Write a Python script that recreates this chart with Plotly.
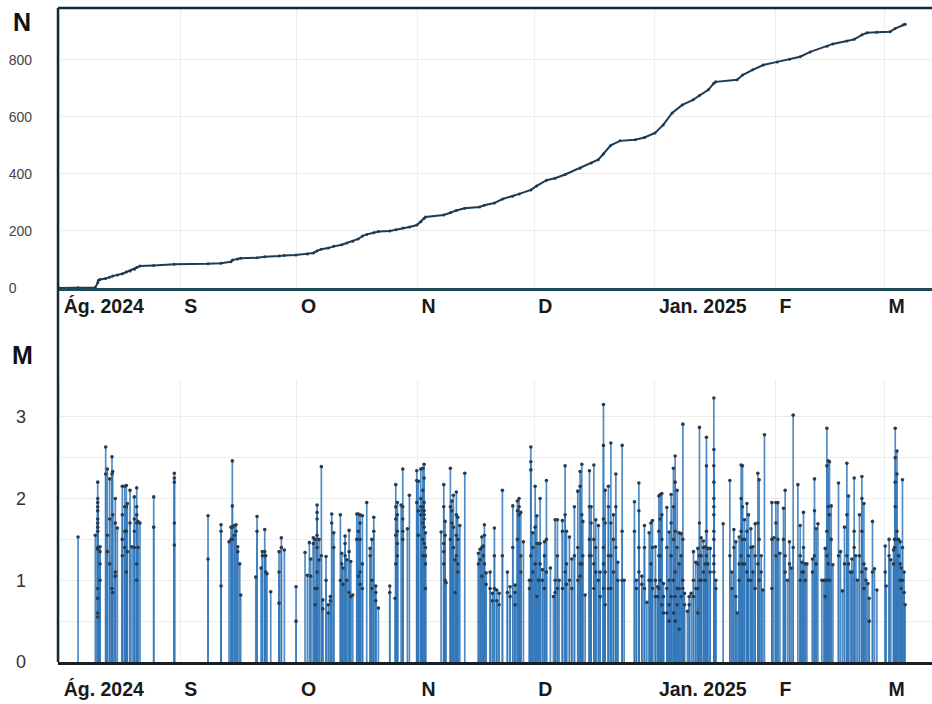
import pandas as pd
import plotly.graph_objects as go
from plotly.subplots import make_subplots

BASE = pd.Timestamp("2024-08-01")

# ---- cumulative number of events N (days since 1 Aug 2024, count) ----
n_day = [0, 4.8, 9.2, 9.85, 10.0, 10.4, 11.9, 12.9, 13.7, 14.9, 16.2, 17.2, 18.2, 19.3, 19.9, 20.7,
         24.2, 29.5, 38.2, 41.5, 44.1, 44.5, 45.8, 46.6, 50.8, 52.8, 56.5, 57.8, 60.8, 63.7, 65.3,
         66.2, 67.3, 69.1, 70.5, 72.6, 73.9, 75.4, 76.8, 77.9, 79.0, 80.8, 82.0, 84.9, 86.5, 88.3,
         90.0, 91.9, 92.9, 93.7, 94.1, 98.8, 100.5, 102.0, 104.2, 108.0, 109.2, 111.8, 113.9, 116.5,
         118.2, 121.2, 122.7, 125.2, 127.4, 130.0, 133.8, 136.7, 138.5, 139.8, 141.7, 144.1, 148.0,
         150.4, 153.1, 155.2, 157.5, 160.1, 162.9, 164.5, 166.8, 168.2, 168.7, 174.2, 175.6, 178.2,
         180.9, 184.5, 187.7, 190.4, 193.0, 197.3, 198.8, 202.4, 204.3, 206.3, 207.6, 210.1, 213.5,
         214.8, 216.9, 217.4]
n_total = [0, 1, 2, 18, 26, 30, 33, 38, 42, 46, 50, 56, 60, 66, 72, 77,
           79, 83, 85, 87, 92, 98, 102, 104, 106, 110, 112, 114, 116, 119, 123,
           130, 136, 140, 146, 152, 158, 164, 172, 182, 188, 194, 198, 200, 204, 210,
           214, 221, 232, 244, 249, 256, 264, 272, 280, 284, 290, 298, 312, 322,
           330, 344, 358, 378, 385, 398, 420, 438, 450, 470, 500, 516, 520,
           528, 544, 572, 614, 642, 660, 675, 695, 718, 723, 730, 747, 765,
           782, 793, 802, 811, 828, 848, 856, 866, 872, 888, 895, 897, 899,
           910, 923, 925]

# ---- magnitudes M: each stem (days since 1 Aug 2024) and the magnitudes of its events ----
event_day = [
    4.8, 9.23, 9.85, 10.44, 11.9, 12.32, 12.93, 13.52, 13.70, 14.37, 14.89, 16.17, 16.79, 17.2,
    17.46, 18.15, 18.67, 19.26, 19.87, 20.2, 20.72, 24.24, 29.54, 38.2,
    41.55, 43.6, 44.12, 44.45, 44.97, 45.4, 45.84, 46.36, 46.6, 50.47, 50.8, 51.83, 52.17, 52.78,
    53.04, 53.37, 54.32, 56.46, 57.05, 57.82, 60.83, 63.14, 63.74, 64.25, 64.6, 65.28, 65.72,
    66.23, 66.74, 67.33, 67.7, 68.54, 69.13, 69.65, 70.0, 70.52, 72.22, 72.58, 72.91, 73.43,
    73.87, 74.46, 74.9, 75.41, 76.44, 76.85,
    77.28, 77.88, 79.0, 79.86, 80.3, 80.81, 81.32, 81.99, 84.92, 86.28, 86.46, 86.87, 87.83,
    88.26, 89.44, 89.96, 91.86, 92.27, 92.89, 93.41, 93.74, 94.07, 98.11, 98.8, 99.14, 99.4,
    100.5, 100.86, 101.27, 101.71, 102.04, 102.4, 102.92, 104.2, 107.7, 108.14, 108.57, 108.98,
    109.24, 109.68, 110.71, 111.3, 111.81, 112.43, 113.02, 113.87, 115.15,
    115.85, 116.54, 117.13, 117.72, 118.16, 118.6, 119.27, 120.81, 121.17, 121.69, 122.28,
    122.72, 123.13, 123.56, 124.15, 124.67, 125.18, 126.21, 126.98, 127.42, 128.01, 128.45,
    129.3, 129.99, 130.33, 131.1, 131.71, 132.38, 133.25, 133.84, 134.28, 134.54, 135.13,
    136.24, 136.67, 137.37, 137.88, 138.55, 138.99, 139.84, 140.28, 141.12, 141.74, 142.41,
    143.03, 143.54, 144.65, 145.16, 147.81, 148.32, 148.94, 149.71, 150.38, 151.0, 151.59,
    152.02, 152.44, 153.21, 153.8, 154.08,
    154.42, 154.85, 155.26, 156.13, 156.72, 157.24, 157.83, 158.27, 158.78, 159.3, 159.81,
    160.25, 160.66, 161.43, 161.87, 162.38, 162.98, 163.59, 164.11, 164.52, 164.96, 165.55,
    165.99, 166.32, 166.68, 167.27, 168.22, 168.74, 170.61, 172.33, 172.85, 173.36, 173.88,
    174.21, 174.73, 175.24, 175.58, 176.09, 176.71, 177.12, 177.74, 178.25, 178.84, 179.53,
    179.87, 180.38, 180.82, 181.23, 183.13, 183.65, 184.16, 184.68, 185.19, 186.12, 186.55,
    187.14, 187.66, 188.1, 188.61, 189.82,
    190.41, 190.85, 191.26, 191.7, 192.13, 193.57, 194.09, 194.52, 194.96, 195.99, 196.5,
    196.84, 197.27, 197.61, 197.94, 198.38, 198.82, 200.26, 200.77, 201.28, 201.8, 202.41,
    202.83, 203.34, 203.7, 204.29, 204.73, 205.14, 205.65, 206.27, 206.79, 207.3, 207.81,
    208.15, 209.0, 209.51, 210.13, 212.26, 212.52, 213.26, 213.7, 214.4, 214.66, 214.84,
    215.28, 215.69, 216.11, 216.37, 216.7, 217.13, 217.39,
]
event_mag = [
    [1.53], [1.55], [2.20, 2.0, 1.95, 1.9, 1.85, 1.75, 1.7, 1.65, 1.6, 1.4, 1.38, 0.9, 0.78, 0.6, 0.55],
    [1.41, 1.35, 1.2, 1.0], [2.63, 2.3], [2.36, 1.55, 1.35], [2.24, 1.75, 1.2], [2.51, 2.3, 0.9],
    [2.33, 1.8, 0.85], [2.0, 1.7, 1.1, 1.05], [1.64], [2.15, 1.8, 1.5, 1.3], [2.15, 1.9, 1.6, 1.4],
    [2.16, 1.9, 1.6, 1.1], [1.94, 1.35], [2.10, 1.7], [1.41], [2.02, 1.75, 1.6, 1.4],
    [2.13, 1.9, 1.8, 1.7, 1.2, 1.0], [1.72, 1.4], [1.70], [2.02, 1.65], [2.31, 2.25, 2.2, 1.7, 1.43],
    [1.79, 1.26],
    [1.68, 1.6, 0.93], [1.47], [1.65, 1.5], [2.46, 1.91, 1.65, 1.5], [1.67, 1.55], [1.68, 1.6],
    [1.41, 1.35], [1.2], [0.82], [1.04], [1.78, 1.6], [1.15], [1.35, 1.3], [1.62, 1.35, 1.3],
    [1.30, 1.1], [1.08], [0.86], [1.35, 1.1, 0.72], [1.52, 1.4], [1.37], [0.92, 0.5], [1.34],
    [1.06], [1.46], [1.26, 1.05], [1.52, 1.45], [1.5, 0.9, 0.7],
    [1.92, 1.83, 1.75, 1.55, 1.4, 1.1, 0.9], [1.5, 1.25], [2.39, 1.3], [0.76, 0.65], [1.29, 1.0],
    [0.70, 0.6], [0.8, 0.75], [1.81, 1.7], [1.58, 1.4], [1.80, 1.0], [1.33, 1.2], [1.15, 0.95],
    [1.54, 1.45, 1.3], [1.25, 1.0], [1.61, 1.35, 0.85], [1.23, 0.8], [0.82], [1.81, 1.5],
    [1.81, 1.6, 1.05],
    [1.80, 1.7, 1.5, 1.1, 0.95], [1.79, 1.2, 0.9], [1.95], [1.39, 1.3], [1.5, 1.0, 0.9], [1.77, 1.6],
    [0.93, 0.85, 0.75], [0.66], [0.93, 0.85], [0.78], [2.17, 1.9, 1.75, 1.55, 1.2],
    [1.95, 1.8, 1.6, 1.45, 1.3], [1.92], [2.36, 1.9, 1.75, 1.6, 1.5], [1.63], [2.04],
    [2.34, 2.22, 1.95], [2.21, 1.85, 1.55], [2.36, 2.0, 1.9, 1.8], [2.37, 2.1, 1.9, 1.85, 1.7, 1.5, 1.3],
    [2.42, 2.25, 1.95, 1.85, 1.8, 1.75, 1.65, 1.45, 1.3], [1.58, 1.4, 1.3, 1.2, 0.9], [1.59],
    [2.17, 1.9, 1.45, 1.35, 1.2], [1.72, 1.55, 1.0], [0.97], [2.37, 1.9, 1.5], [1.97, 1.85, 1.7],
    [2.04, 1.65, 1.4], [1.25, 0.85], [2.08, 1.8, 1.55, 1.3], [1.77, 1.5, 1.2, 1.1], [1.67], [2.31],
    [1.33, 1.2], [1.38, 1.25], [1.53, 1.4, 1.05], [1.42, 1.3], [1.68, 1.55, 1.2], [1.09, 0.95],
    [1.10, 0.9], [0.84, 0.75], [1.64, 1.3, 0.9], [0.88, 0.75], [0.84, 0.7], [2.10, 1.3], [1.10, 0.85],
    [0.92, 0.8], [1.91, 1.4], [0.94, 0.85, 0.7], [1.97, 1.85, 1.5], [2.0, 1.9, 1.8], [1.83, 1.3, 1.1],
    [1.47], [1.0, 0.9], [2.63, 2.45, 2.35, 1.3, 1.0], [1.58, 1.4, 1.1], [2.15, 1.65, 1.2],
    [1.79, 1.45, 0.8], [1.45, 1.0], [2.0, 1.45, 1.2], [1.13, 1.0], [1.47, 1.3, 0.9], [2.22, 1.5, 1.1],
    [1.15], [0.8], [1.74, 1.0, 0.85], [1.74, 1.3, 0.9], [1.0], [1.73, 1.6, 0.9], [2.40, 1.8, 1.1],
    [1.6, 1.2, 0.95], [1.53, 1.0], [1.26, 0.9], [1.90, 1.3], [2.09, 1.4, 1.0], [2.33, 2.15, 1.2, 1.05],
    [2.42, 1.8, 1.2], [1.72, 1.3], [0.82], [2.34, 1.9, 1.5, 1.3], [1.90, 1.7, 1.3],
    [2.41, 1.5, 1.2, 0.9], [1.74, 1.4, 1.1], [1.67, 1.0], [1.10, 0.8], [3.15, 2.65, 1.75, 1.4, 1.2, 0.9],
    [2.10, 1.7, 1.1, 0.7], [2.15, 1.9, 1.3, 0.9], [2.68, 1.7, 1.3, 0.9], [1.80, 1.5, 1.1],
    [2.30, 1.9, 1.4], [1.22, 1.0], [2.65, 1.6, 1.0], [1.0], [1.96, 1.6], [1.0, 0.9],
    [2.19, 1.85, 1.4, 1.1], [1.05, 0.95], [1.67, 1.4, 0.9], [0.73], [1.58, 1.0], [1.70, 1.2, 1.0],
    [1.73, 1.4, 0.9], [1.41, 1.0, 0.8], [0.92, 0.8], [2.03, 1.6, 1.3, 0.9],
    [2.05, 1.75, 1.3, 1.0], [2.06, 1.8, 1.5, 0.7], [0.96, 0.8, 0.6], [1.89, 1.4, 0.9, 0.6],
    [1.59, 1.0, 0.7, 0.5], [2.05, 1.7, 1.3, 0.8], [2.37, 1.9, 1.5, 1.0, 0.6],
    [2.52, 2.2, 1.6, 1.1, 0.8, 0.5], [2.10, 1.4, 0.9, 0.7], [1.58, 1.2, 0.9, 0.4], [1.57, 1.3, 0.8],
    [2.91, 1.5, 1.0, 0.9], [0.84, 0.7], [0.62], [0.80, 0.7], [0.84], [1.35, 1.0, 0.8], [1.22, 0.9],
    [1.39, 1.2, 0.9, 0.6], [2.87, 1.7, 1.3, 1.0], [1.52, 1.3, 1.0], [1.48, 1.4, 1.1], [1.41, 1.2, 1.0],
    [2.75, 2.4, 1.6, 1.3], [1.39, 1.2], [1.39, 1.1],
    [3.23, 2.6, 2.4, 2.2, 2.0, 1.9, 1.8, 1.6, 1.5, 1.3, 1.2, 1.1], [1.0, 0.9], [1.69], [2.22, 1.3],
    [1.10, 0.9], [1.62, 1.4], [1.47, 0.8], [0.6], [1.53, 1.2, 1.0], [2.41, 2.0, 1.6, 1.3],
    [2.40, 1.9, 1.5, 1.2], [1.74, 1.5, 1.2], [1.94, 1.6, 1.1], [1.80, 1.3, 1.0], [1.63, 1.4, 1.0],
    [1.41, 1.1], [1.69, 1.3, 0.9], [2.31, 1.7, 1.2], [2.23, 1.5, 1.0], [1.3, 1.1], [0.88], [2.78],
    [1.95, 1.5, 0.9], [1.52], [1.95, 1.7, 1.3], [1.95, 1.5], [1.33], [1.88, 1.5], [2.10, 1.3, 1.1],
    [1.0], [1.47, 1.2], [1.15], [3.02, 1.4], [2.17],
    [1.67, 1.3, 1.0], [1.22, 1.1], [1.83, 1.4, 1.1], [1.20, 1.0], [1.20], [1.26, 1.1],
    [2.24, 1.85, 1.3], [1.63, 1.2], [1.69], [1.0], [1.0], [1.39, 1.0, 0.8], [2.86, 2.4, 1.6, 1.3, 1.0],
    [2.46, 1.9, 1.2], [2.45, 1.8, 1.0], [1.91, 1.5], [1.19], [2.19, 1.3], [1.35], [0.87], [1.65, 1.2],
    [2.43, 1.8, 1.3], [2.03, 1.2], [1.10], [1.26, 1.1], [2.25, 1.6, 1.4], [1.3], [1.0], [1.80, 1.3],
    [2.27, 2.0, 1.6, 1.1], [1.94, 1.2, 0.9], [1.14, 1.0], [0.96], [0.78, 0.5], [1.72, 1.1], [1.14],
    [0.88], [1.42, 1.1], [0.93], [1.5, 1.3], [1.25], [1.37, 1.2], [1.5, 1.4], [2.86, 2.5, 2.2, 1.9, 1.5],
    [2.58, 2.3, 1.6], [1.5, 1.3], [1.47, 1.2, 1.0], [1.15, 0.9], [2.23, 1.4, 1.0], [1.1, 0.85], [0.7],
]

# ---- axis ticks ----
tick_dates = ["2024-08-01", "2024-09-01", "2024-10-01", "2024-11-01", "2024-12-01",
              "2025-01-01", "2025-02-01", "2025-03-01"]
tick_text = ["Ág. 2024", "S", "O", "N", "D", "Jan. 2025", "F", "M"]
n_tick_vals = [0, 200, 400, 600, 800]
n_tick_text = ["0\u2007\u2007", "200", "400", "600", "800"]

# ---- build traces ----
n_x = BASE + pd.to_timedelta(n_day, unit="D")
stem_x, stem_y, dot_x, dot_y = [], [], [], []
for d, mags in zip(event_day, event_mag):
    t = BASE + pd.Timedelta(days=d)
    for m in mags:
        stem_x += [t, t, None]
        stem_y += [0, m, None]
        dot_x.append(t)
        dot_y.append(m)

fig = make_subplots(rows=2, cols=1, shared_xaxes=False, vertical_spacing=0.0)

fig.add_trace(go.Scatter(x=n_x, y=n_total, mode="lines+markers", line_shape="linear",
                         line=dict(color="#1d3b55", width=2),
                         marker=dict(size=3, color="#1d3b55"),
                         showlegend=False, hoverinfo="skip"), row=1, col=1)
fig.add_trace(go.Scatter(x=stem_x, y=stem_y, mode="lines",
                         line=dict(color="rgba(52,120,186,0.85)", width=1.7),
                         showlegend=False, hoverinfo="skip"), row=2, col=1)
fig.add_trace(go.Scatter(x=dot_x, y=dot_y, mode="markers",
                         marker=dict(size=3.6, color="#2a3b4d"),
                         showlegend=False, hoverinfo="skip"), row=2, col=1)

W, H = 932, 704
L, R, T, B = 58, 0, 8, 42
ph = H - T - B
xrange = ["2024-07-31 15:20", "2025-03-13 07:00"]

xfont = dict(family="Liberation Sans, Arial, sans-serif", size=19.5, color="#1a1a1a", weight="bold")
common_x = dict(type="date", range=xrange, tickvals=tick_dates, ticktext=tick_text,
                showgrid=True, gridcolor="#eeeeee", gridwidth=1, zeroline=False, automargin=False,
                ticks="", tickfont=xfont, ticklabelposition="outside right", ticklabelshift=3)

fig.update_xaxes(row=1, col=1, domain=[0, 1], showline=True, linecolor="#1f4a5a", linewidth=2.5,
                 ticklabelstandoff=-1, **common_x)
fig.update_xaxes(row=2, col=1, domain=[0, 1], showline=True, linecolor="#1a1f24", linewidth=2.5,
                 ticklabelstandoff=8, **common_x)

fig.update_yaxes(row=1, col=1, domain=[(662 - 288) / ph, 1.0], range=[0, 982],
                 tickvals=n_tick_vals, ticktext=n_tick_text,
                 showgrid=True, gridcolor="#ebebeb", zeroline=False, showline=False, automargin=False,
                 tickfont=dict(family="Liberation Sans, Arial, sans-serif", size=14, color="#444"),
                 ticklabelstandoff=25, ticks="")
fig.update_yaxes(row=2, col=1, domain=[0, (662 - 380) / ph], range=[0, 3.45], dtick=1, tick0=0,
                 showgrid=True, gridcolor="#ececec", zeroline=False, showline=False, automargin=False,
                 minor=dict(dtick=0.5, tick0=0, showgrid=True, gridcolor="#ececec", ticks=""),
                 tickfont=dict(family="Liberation Sans, Arial, sans-serif", size=18, color="#333"),
                 ticklabelstandoff=31, ticks="")

frame = "#112a36"
fig.add_shape(type="line", xref="paper", yref="paper", x0=0, x1=0, y0=0, y1=1,
              line=dict(color=frame, width=2.5))
fig.add_shape(type="line", xref="paper", yref="paper", x0=0, x1=1, y0=1, y1=1,
              line=dict(color=frame, width=2.5))

afont = dict(family="Liberation Sans, Arial, sans-serif", size=25, color="#111", weight="bold")
fig.add_annotation(text="N", xref="paper", yref="paper", x=(22 - L) / (W - L - R),
                   y=(662 - 22) / ph, xanchor="center", yanchor="middle", showarrow=False, font=afont)
fig.add_annotation(text="M", xref="paper", yref="paper", x=(22 - L) / (W - L - R),
                   y=(662 - 355) / ph, xanchor="center", yanchor="middle", showarrow=False, font=afont)

fig.update_layout(width=W, height=H, margin=dict(l=L, r=R, t=T, b=B, autoexpand=False),
                  plot_bgcolor="white", paper_bgcolor="white", showlegend=False)

fig.write_html("out.html", config={"displayModeBar": False},
               post_script="document.body.style.margin='0';document.body.style.padding='0';")
